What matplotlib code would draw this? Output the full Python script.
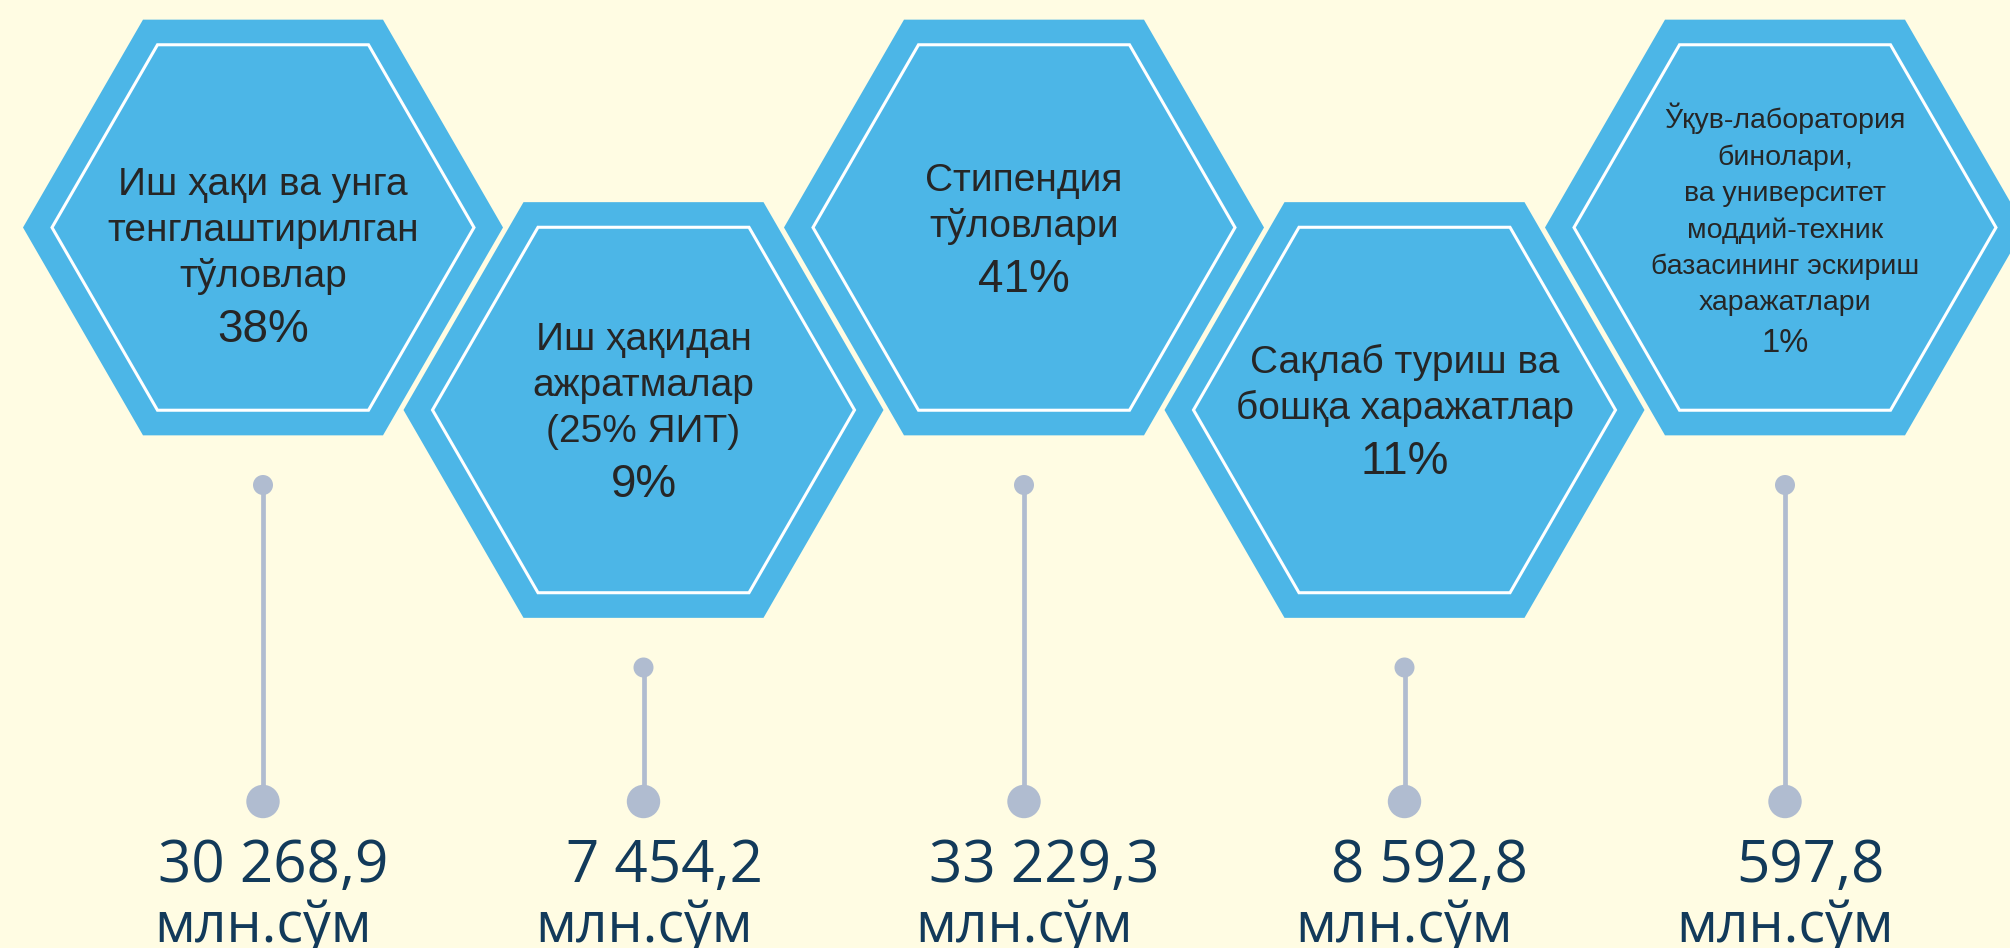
import numpy as np
import matplotlib.pyplot as plt
from matplotlib.patches import RegularPolygon, Circle

# Данные
labels = [
    "Иш ҳақи ва унга\nтенглаштирилган\nтўловлар",
    "Иш ҳақидан\nажратмалар\n(25% ЯИТ)",
    "Стипендия\nтўловлари",
    "Сақлаб туриш ва\nбошқа харажатлар",
    "Ўқув-лаборатория\nбинолари,\nва университет\nмоддий-техник\nбазасининг эскириш\nхаражатлари",
]
shares = [38, 9, 41, 11, 1]
amounts = ["30 268,9", "7 454,2", "33 229,3", "8 592,8", "597,8"]
unit = "млн.сўм"

# Оформление
BG = "#FFFCE3"
HEX = "#4CB6E7"
PIN = "#B0BCD0"
NAVY = "#123A5A"
TXT = "#262626"

W, H = 2010, 948
x0, dx = 263, 380.5           # центры шестиугольников
y_top, y_low = 227.5, 410     # верхний / нижний ряд
R_OUT, R_IN = 240, 211

first_base = [-32.5, -60, -36.8, -37.3, -99.5]   # смещение первой строки от центра
num_shift = [10, 21, 20, 25, 25]

fig = plt.figure(figsize=(W / 100, H / 100), dpi=100, facecolor=BG)
ax = fig.add_axes([0, 0, 1, 1])
ax.set_xlim(0, W)
ax.set_ylim(H, 0)
ax.set_aspect("equal")
ax.axis("off")
ax.set_facecolor(BG)

for i, (lab, pct, amt) in enumerate(zip(labels, shares, amounts)):
    cx = x0 + i * dx
    cy = y_top if i % 2 == 0 else y_low

    ax.add_patch(RegularPolygon((cx, cy), 6, radius=R_OUT, orientation=np.pi / 6,
                                facecolor=HEX, edgecolor="none"))
    ax.add_patch(RegularPolygon((cx, cy), 6, radius=R_IN, orientation=np.pi / 6,
                                facecolor="none", edgecolor="white", lw=2.2))

    lines = lab.split("\n")
    small = len(lines) > 3
    fs, pfs = (20.5, 23.5) if small else (28, 33)
    step, pgap = (36.5, 42) if small else (46, 55)
    y = cy + first_base[i]
    for ln in lines:
        ax.text(cx, y, ln, ha="center", va="baseline", fontsize=fs,
                color=TXT, family="Liberation Sans")
        y += step
    ax.text(cx, y - step + pgap, f"{pct}%", ha="center", va="baseline",
            fontsize=pfs, color=TXT, family="Liberation Sans")

    # булавка
    top = cy + 257.5
    bot = 801.5
    ax.plot([cx, cx], [top, bot], color=PIN, lw=3.4, solid_capstyle="butt", zorder=2)
    ax.add_patch(Circle((cx, top), 10, facecolor=PIN, edgecolor="none", zorder=3))
    ax.add_patch(Circle((cx, bot), 16.7, facecolor=PIN, edgecolor="none", zorder=3))

    ax.text(cx + num_shift[i], 882, amt, ha="center", va="baseline", fontsize=42,
            color=NAVY, family="Open Sans")
    ax.text(cx, 942, unit, ha="center", va="baseline", fontsize=40,
            color=NAVY, family="Open Sans")

fig.savefig("out.png", dpi=100, facecolor=BG)
